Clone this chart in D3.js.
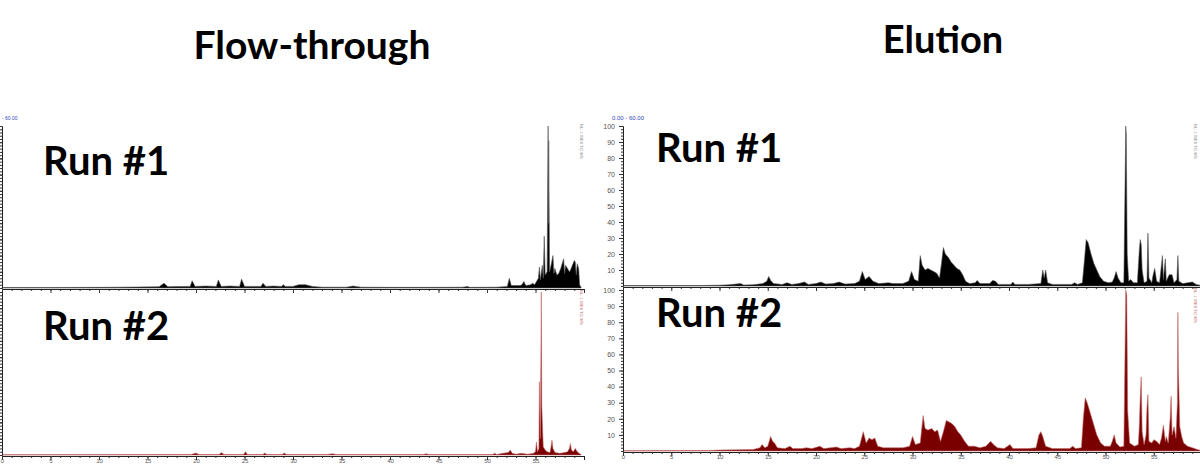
<!DOCTYPE html>
<html>
<head>
<meta charset="utf-8">
<script src="https://cdn.jsdelivr.net/npm/d3@7"></script>
<style>
  body { margin: 0; background: #fff; }
  svg { display: block; }
</style>
</head>
<body>
<div id="chart"></div>
<script>
// chromatogram traces, [retention time (min), relative abundance (%)]
var flowRun1 = [[0,0.3],[5,0.3],[10,0.4],[12,0.5],[14,0.6],[16.2,0.8],[16.7,3],[17.1,0.8],[18,0.9],[19.4,1],[19.6,4.5],[19.9,1],[21,1.2],[22.1,1],[22.3,5],[22.6,1],[23.5,1.2],[24.5,1],[24.7,5.5],[25,1],[26,1],[26.7,1],[26.9,3],[27.2,1],[28,1.2],[28.8,1],[29,2],[29.2,1],[30,1],[30.6,2],[31.3,2],[32,1],[33,0.5],[35.5,0.5],[36.2,1.2],[37,0.5],[40,0.4],[45,0.4],[47.5,0.5],[48,1],[48.2,0.4],[51,0.5],[52.1,1],[52.3,6],[52.5,1.5],[53.4,1.5],[53.6,2],[53.8,4],[54,1.5],[54.5,2],[54.7,3],[54.9,2],[55.1,4],[55.3,6],[55.4,13],[55.5,5],[55.7,14],[55.8,6],[55.9,32],[56.0,8],[56.2,10],[56.3,100],[56.33,40],[56.36,91],[56.45,10],[56.6,14],[56.8,20],[56.9,9],[57.0,12],[57.2,8],[57.4,9],[57.6,12],[57.8,16],[57.9,18],[58.0,9],[58.1,14],[58.3,12],[58.5,10],[58.6,11],[58.8,14],[59.0,17],[59.1,16],[59.2,8],[59.3,15],[59.45,12],[59.55,2],[59.7,0.3]];
var flowRun2 = [[0,0.2],[19.5,0.3],[20,1.2],[20.3,0.3],[22.4,0.3],[22.6,1.5],[22.9,0.3],[24.9,0.3],[25.1,2],[25.3,0.3],[26.9,0.3],[27.1,1.2],[27.3,0.3],[28.9,0.3],[29.1,1.2],[29.3,0.3],[33.5,0.3],[34.1,0.8],[34.4,0.3],[43.5,0.3],[43.7,0.8],[44,0.3],[50.6,0.3],[50.8,1],[51,0.3],[51.6,1],[52.2,1.5],[52.4,3],[52.6,1],[53,0.5],[53.5,1],[54.2,0.5],[54.8,1],[55.0,2],[55.1,8],[55.2,2],[55.35,4],[55.4,45],[55.5,10],[55.6,100],[55.65,30],[55.7,21],[55.8,5],[56,3],[56.2,2],[56.5,1.5],[56.6,5],[56.7,9],[56.8,4],[57,1.5],[57.5,1],[58,1.5],[58.3,2],[58.5,4],[58.6,7],[58.7,3],[58.9,2],[59.1,4],[59.3,2],[59.5,1],[59.7,0.3]];
var eluRun1 = [[0,0.3],[8,0.3],[10,0.5],[11,0.8],[12.2,1.5],[12.5,0.6],[13.5,0.8],[14.5,1.5],[14.9,3],[15.1,6],[15.3,3.5],[15.6,1.5],[16.5,1],[17,2],[17.5,1],[18.2,1.5],[18.8,2.5],[19.2,1],[20,1.5],[20.5,2.5],[21,1.2],[21.8,1.5],[22.4,2.5],[23,1.2],[24,1.5],[24.5,3],[24.8,9],[25.1,4],[25.5,6],[25.9,3],[26.5,1.5],[27.5,2],[28,1.5],[29,1.5],[29.6,3],[29.9,9],[30.2,4],[30.6,3],[30.8,19],[31,13],[31.3,10],[31.6,11],[31.9,10],[32.2,9],[32.5,8],[32.8,5],[33,14],[33.2,24],[33.4,20],[33.7,18],[34,15],[34.3,13],[34.6,11],[34.9,10],[35.2,7],[35.5,3],[35.9,1.5],[36.5,2],[36.7,3.5],[37,1.5],[38,1.5],[38.3,3.5],[38.6,3],[38.9,1],[40.2,1],[40.4,2.5],[40.6,1],[42,1],[43.3,1.5],[43.5,10],[43.65,5],[43.8,10],[44,2],[44.5,1],[46.5,1],[46.8,2],[47.1,1],[47.6,2],[47.8,15],[48,29],[48.2,27],[48.5,20],[48.8,14],[49.1,10],[49.4,6],[49.8,3],[50.3,2],[50.7,2.5],[50.9,5],[51.1,9],[51.3,5],[51.6,2],[51.9,2],[52.0,50],[52.1,100],[52.15,95],[52.25,20],[52.4,3],[52.6,4],[52.9,2],[53.3,2],[53.5,22],[53.6,29],[53.7,26],[53.8,10],[54,2],[54.3,3],[54.4,33],[54.5,5],[54.8,2],[54.9,6],[55.1,11],[55.3,3],[55.6,2],[55.9,19],[56.0,4],[56.2,17],[56.3,3],[56.6,7],[56.9,7],[57.1,2],[57.4,4],[57.5,19],[57.6,3],[58,1.5],[58.5,2],[59,2.5],[59.4,1],[59.8,0.5]];
var eluRun2 = [[0,0.2],[9,0.3],[10,0.6],[12,0.8],[13.5,1],[14.2,2],[14.4,4],[14.7,2],[15.0,3],[15.3,9],[15.5,6],[15.7,5],[16,2],[16.8,1.5],[17.3,3],[17.6,1.5],[18.5,1.5],[19,2],[19.6,1.5],[20.4,3],[20.8,1.5],[21.5,2],[22.1,2.5],[22.6,1.5],[23.5,2],[24,1.5],[24.5,3],[24.9,12],[25.2,5],[25.5,8],[25.8,7],[26.1,8],[26.4,3],[27,2],[28,2],[29,2],[29.7,3],[30,9],[30.3,4],[30.8,5],[31.1,22],[31.3,14],[31.6,13],[32,14],[32.3,12],[32.6,13],[32.9,6],[33.2,12],[33.5,19],[33.8,18],[34.1,17],[34.4,15],[34.7,12],[35,10],[35.4,6],[35.8,3],[36.4,3],[37,2],[37.6,3],[38.1,6],[38.4,4],[38.8,2],[39.5,1.5],[40.1,4],[40.4,1.5],[42,1.5],[42.8,2],[43.1,10],[43.3,12],[43.5,9],[43.8,3],[44.5,1.5],[46.3,1.5],[46.6,3],[46.9,1.5],[47.5,2],[47.7,20],[47.9,33],[48.1,30],[48.4,24],[48.8,16],[49.1,10],[49.5,5],[49.9,3],[50.5,3],[50.7,6],[50.9,10],[51.1,5],[51.5,2.5],[51.9,3],[52.0,50],[52.1,100],[52.2,97],[52.3,25],[52.5,5],[53,3],[53.4,4],[53.5,15],[53.6,33],[53.7,46],[53.8,12],[54,4],[54.2,10],[54.3,27],[54.4,35],[54.5,6],[54.8,5],[55.0,7],[55.3,6],[55.6,4],[55.8,8],[56.0,16],[56.2,6],[56.3,9],[56.5,5],[56.7,20],[56.8,34],[56.9,10],[57.1,15],[57.3,8],[57.45,30],[57.5,86],[57.55,52],[57.7,15],[57.9,9],[58.1,5],[58.5,3],[59,2],[59.5,1],[59.8,0.5]];

var titles = ["Flow-through", "Elution"];
var runLabels = ["Run #1", "Run #2"];
var rangeLabel = "0.00 - 60.00";
var xTicks = [0, 5, 10, 15, 20, 25, 30, 35, 40, 45, 50, 55, 60];
var yTicks = [10, 20, 30, 40, 50, 60, 70, 80, 90, 100];

var W = 1200, H = 466;
var svg = d3.select("#chart").append("svg")
  .attr("width", W).attr("height", H);

// panel geometry
var panels = [
  {data: flowRun1, x0: 2,   x1: 584,  y0: 288, y1: 126, color: "#000", edge: "#555", run: 0, col: 0, labels: false},
  {data: flowRun2, x0: 2,   x1: 584,  y0: 455, y1: 292, color: "#7a0000", edge: "#c46a6a", run: 1, col: 0, labels: true},
  {data: eluRun1,  x0: 623, x1: 1202, y0: 286, y1: 126, color: "#000", edge: "#555", run: 0, col: 1, labels: false},
  {data: eluRun2,  x0: 623, x1: 1202, y0: 451, y1: 290, color: "#7a0000", edge: "#c46a6a", run: 1, col: 1, labels: true}
];

panels.forEach(function(p) {
  var x = d3.scaleLinear().domain([0, 60]).range([p.x0, p.x1]);
  var y = d3.scaleLinear().domain([0, 100]).range([p.y0, p.y1]);
  var g = svg.append("g");

  g.append("path")
    .datum(p.data)
    .attr("fill", p.color)
    .attr("stroke", p.edge)
    .attr("stroke-width", 0.6)
    .attr("d", d3.area()
      .x(d => x(d[0]))
      .y0(y(0))
      .y1(d => y(d[1])));

  // x axis with minor ticks
  var xa = g.append("g").attr("transform", "translate(0," + (p.y0 + 1) + ")");
  xa.call(d3.axisBottom(x).tickValues(d3.range(0, 60.1, 1)).tickSize(2).tickFormat(""));
  xa.append("g").call(d3.axisBottom(x).tickValues(p.labels ? xTicks.slice(0, 12) : xTicks).tickSize(4)
      .tickFormat(p.labels ? d3.format("d") : ""));
  xa.selectAll(".domain").attr("stroke", "#222");
  xa.selectAll("line").attr("stroke", "#333");
  xa.selectAll("text").attr("fill", "#555").style("font", "6px Arial")
    .attr("y", 3).attr("dy", "0.71em");

  // y axis with minor ticks (left column labels fall off the page in the original)
  var ya = g.append("g").attr("transform", "translate(" + p.x0 + ",0)");
  ya.call(d3.axisLeft(y).tickValues(d3.range(0, 100.1, 2)).tickSize(2).tickFormat("").tickSizeOuter(0));
  ya.append("g").call(d3.axisLeft(y).tickValues(yTicks).tickSize(4).tickSizeOuter(0)
      .tickFormat(p.col === 1 ? d3.format("d") : ""));
  ya.selectAll(".domain").attr("stroke", "#222");
  ya.selectAll("line").attr("stroke", "#333");
  ya.selectAll("text").attr("fill", "#555").style("font", "7px Arial").attr("dx", "-1");

  // big run label
  g.append("text")
    .attr("x", p.col === 0 ? 43 : 656)
    .attr("y", p.col === 0 ? (p.run === 0 ? 175 : 340) : (p.run === 0 ? 162 : 327))
    .style("font", "bold 40px Lato, sans-serif")
    .attr("fill", "#000")
    .text(runLabels[p.run]);

  // tiny vertical annotation at the right edge
  g.append("text")
    .attr("transform", "translate(" + (p.col === 0 ? p.x1 - 4 : 1194) + "," + (p.y1 - 2) + ") rotate(90)")
    .style("font", "4px Arial")
    .attr("fill", p.run === 0 ? "#888" : "#c46a6a")
    .text("NL: 1.00E8  TIC MS");
});

// small range labels
svg.append("text").attr("x", 612).attr("y", 120)
  .style("font", "6px Arial").attr("fill", "#3344bb").text(rangeLabel);
svg.append("text").attr("x", 2).attr("y", 120)
  .style("font", "5px Arial").attr("fill", "#3344bb").text("- 60.00");

// column titles
svg.selectAll(".title")
  .data(titles)
  .enter().append("text")
  .attr("class", "title")
  .attr("x", (d, i) => i === 0 ? 312 : 943)
  .attr("y", (d, i) => i === 0 ? 59 : 53)
  .attr("text-anchor", "middle")
  .style("font", (d, i) => "bold " + (i === 0 ? 39 : 38) + "px Lato, sans-serif")
  .text(d => d);
</script>
</body>
</html>
